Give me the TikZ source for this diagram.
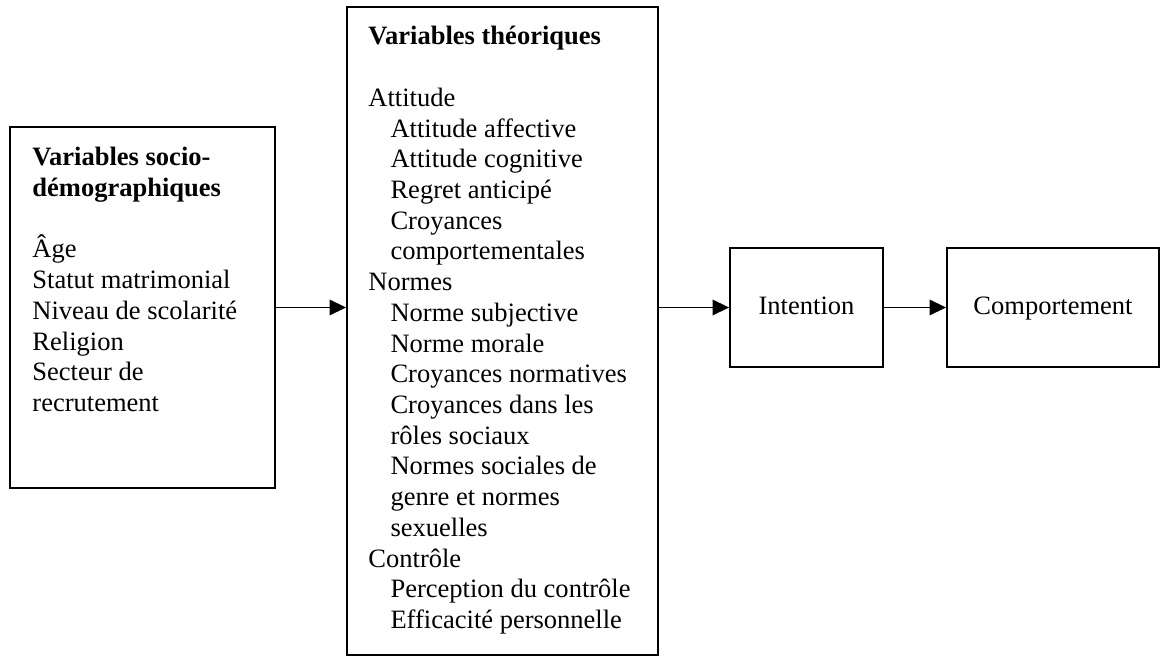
\documentclass[tikz,border=0pt]{standalone}
\usepackage{fontspec}
\setmainfont{Liberation Serif}
\usetikzlibrary{arrows.meta,calc}

\begin{document}
\begin{tikzpicture}[x=0.4525pt,y=-0.4525pt]
% size of one unit and indent of the sub items
\def\u{0.4525pt}
\def\ind{\hspace*{10pt}}
% node style definition
\tikzstyle{panel} = [
	draw, line width=0.8pt, rectangle, inner sep=0pt,
	text height=6pt, text depth=0pt,
	font=\fontsize{12}{13.9}\selectfont ];
\tikzstyle{liste} = [draw=none, inner sep=0pt, align=left, anchor=north west,
	font=\fontsize{12}{13.9}\selectfont];
\tikzstyle{fleche} = [line width=0.8pt, -{Triangle[length=7.5pt,width=7pt]}];
\useasboundingbox (0,0) rectangle (1160,656);

% boxes
\node[panel, minimum width=265*\u, minimum height=361*\u] (soc) at (142.5,307.5) {};
\node[panel, minimum width=311*\u, minimum height=648*\u] (theo) at (502.5,331) {};
\node[panel, minimum width=153*\u, minimum height=119*\u] (int) at (806.5,307.5) { Intention };
\node[panel, minimum width=212*\u, minimum height=119*\u] (comp) at (1053,307.5) { Comportement };

% box contents
\node[liste] (socTxt) at (32,147) {
	\textbf{Variables socio-}\\
	\textbf{démographiques}\\[13.9pt]
	Âge\\
	Statut matrimonial\\
	Niveau de scolarité\\
	Religion\\
	Secteur de\\
	recrutement };
\node[liste] (theoTxt) at (368,26) {
	\textbf{Variables théoriques}\\[13.9pt]
	Attitude\\
	\ind Attitude affective\\
	\ind Attitude cognitive\\
	\ind Regret anticipé\\
	\ind Croyances\\
	\ind comportementales\\
	Normes\\
	\ind Norme subjective\\
	\ind Norme morale\\
	\ind Croyances normatives\\
	\ind Croyances dans les\\
	\ind rôles sociaux\\
	\ind Normes sociales de\\
	\ind genre et normes\\
	\ind sexuelles\\
	Contrôle\\
	\ind Perception du contrôle\\
	\ind Efficacité personnelle };

% arrows
\draw[fleche] (soc.east) -- (soc.east -| theo.west);
\draw[fleche] (int.west -| theo.east) -- (int.west);
\draw[fleche] (int) -- (comp);

\end{tikzpicture}
\end{document}
